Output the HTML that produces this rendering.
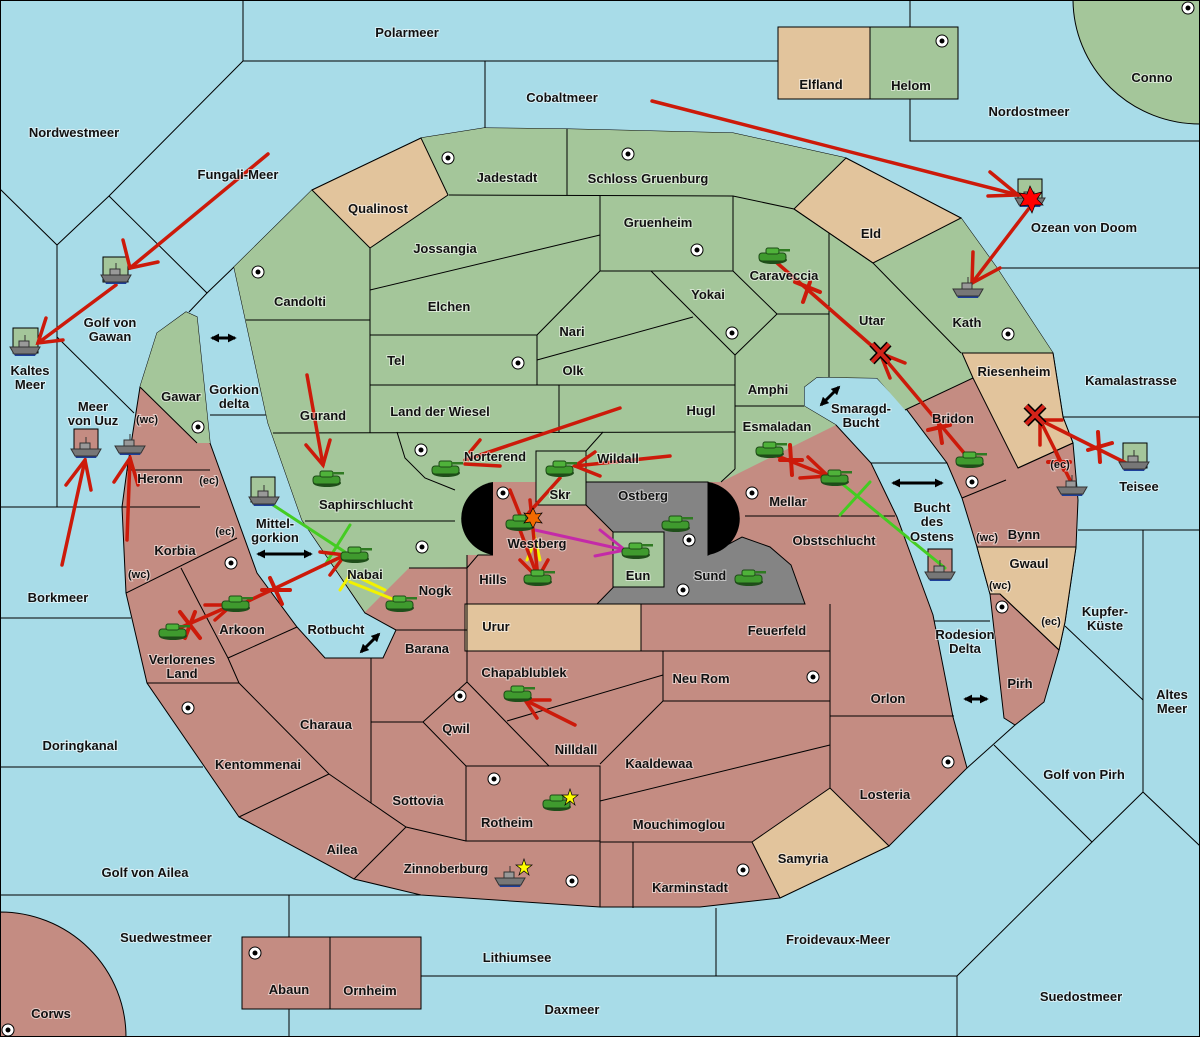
<!DOCTYPE html>
<html><head><meta charset="utf-8"><style>
html,body{margin:0;padding:0;background:#a8dce8}
svg{display:block}
text{font-family:"Liberation Sans",sans-serif;font-weight:bold;font-size:13px;fill:#111;text-anchor:middle;stroke:#fff;stroke-width:2px;stroke-opacity:.55;paint-order:stroke}
.s{font-size:11px}
.b{fill:none;stroke:#000;stroke-width:1}
.r{stroke:#cc1a0a;stroke-width:3.5;fill:none;stroke-linecap:round}
</style></head><body>
<svg width="1200" height="1037" viewBox="0 0 1200 1037" xmlns="http://www.w3.org/2000/svg">
<defs>
<g id="tank"><ellipse cx="0" cy="4" rx="14" ry="4" fill="#1f4f1a"/><rect x="-14" y="-3" width="27" height="8" rx="3" fill="#3f9a2e" stroke="#1d4a16" stroke-width="1"/><rect x="-7" y="-8" width="13" height="6" rx="2" fill="#4fb23a" stroke="#1d4a16" stroke-width="1"/><rect x="5" y="-7" width="12" height="2.5" fill="#2f7a22"/></g>
<g id="ship"><path d="M-14,2 L14,2 L10,9 L-10,9 Z" fill="#1d3f9a"/><path d="M-15,0 L15,0 L11,7 L-11,7 Z" fill="#777" stroke="#333" stroke-width="1"/><rect x="-6" y="-6" width="10" height="6" fill="#999" stroke="#333" stroke-width="1"/><line x1="0" y1="-6" x2="0" y2="-12" stroke="#333"/></g>
<g id="sc"><circle r="6" fill="#fff" stroke="#000" stroke-width="1"/><circle r="2.5" fill="#000"/></g>
<marker id="ah" viewBox="0 0 10 10" refX="8" refY="5" markerWidth="3" markerHeight="3" orient="auto-start-reverse"><path d="M0,0 L10,5 L0,10 Z" fill="#000"/></marker>
</defs>
<rect width="1200" height="1037" fill="#a8dce8"/>
<g class="b">
<polyline points="243,0 243,61 778,61"/>
<polyline points="485,61 485,128"/>
<polyline points="243,61 109,196 57,245 0,189"/>
<polyline points="57,245 57,507"/>
<polyline points="109,196 207,293 234,267"/>
<polyline points="189,312 207,293"/>
<polyline points="57,337 134,413"/>
<polyline points="0,507 122,507"/>
<polyline points="210,415 266,415"/>
<polyline points="0,618 131,618"/>
<polyline points="0,767 203,767"/>
<polyline points="0,895 421,895"/>
<polyline points="289,895 289,1037"/>
<polyline points="421,976 957,976 957,1037"/>
<polyline points="716,908 716,976"/>
<polyline points="910,0 910,27"/><polyline points="910,99 910,141 1200,141"/>
<polyline points="997,268 1200,268"/>
<polyline points="1063,417 1200,417"/>
<polyline points="1078,530 1200,530"/>
<polyline points="1143,530 1143,792 1200,846"/>
<polyline points="1065,626 1143,700"/>
<polyline points="1143,792 1092,842 994,745"/>
<polyline points="1015,725 967,768"/>
<polyline points="1092,842 957,976"/>
<polyline points="933,621 990,621"/>
<polyline points="871,463 947,463"/>
</g>
<path d="M234,267 L312,190 L421,138 L484,128 L567,129 L733,133 L846,158 L961,218 L997,268 L1053,353 L1063,417 L1073,443 L1078,500 L1076,547 L1065,622 L1059,650 L1044,702 L1015,725 L1004,718 L990,594 L977,547 L962,498 L947,463 L907,410 L877,378 L817,377 L804,387 L804,406 L836,425 L871,463 L897,517 L929,604 L933,615 L953,717 L967,768 L889,846 L780,898 L700,907 L600,907 L421,895 L354,879 L239,817 L147,683 L126,593 L122,507 L127,470 L140,387 L157,333 L186,312 L197,317 L210,443 L257,573 L297,627 L325,658 L383,658 L396,630 L365,613 L302,520 L268,423 Z" fill="#c48c82" stroke="#000" stroke-width="1"/>
<path d="M234,267 L312,190 L421,138 L484,128 L567,129 L733,133 L846,158 L961,218 L997,268 L1053,353 L962,353 L973,378 L905,410 L877,378 L817,377 L804,387 L804,406 L836,425 L721,482 L493,482 L493,555 L467,555 L467,567 L409,568 L365,612 L302,520 L268,423 Z" fill="#a4c69a"/>
<path d="M140,387 L157,333 L186,312 L197,317 L210,443 L197,443 Z" fill="#a4c69a"/>
<g fill="#e2c49c" stroke="#000">
<path d="M312,190 L421,138 L448,195 L370,248 Z"/>
<path d="M794,209 L846,158 L961,218 L873,263 Z"/>
<path d="M962,353 L1053,353 L1063,417 L1073,443 L1018,468 L973,378 Z"/>
<path d="M977,547 L1076,547 L1065,622 L1059,650 L1000,594 L990,594 Z"/>
<rect x="465" y="604" width="176" height="47"/>
<path d="M752,842 L830,788 L889,846 L780,898 Z"/>
<rect x="778" y="27" width="92" height="72"/>
</g>
<rect x="870" y="27" width="88" height="72" fill="#a4c69a" stroke="#000"/>
<path d="M1073,0 A127,125 0 0 0 1200,124 L1200,0 Z" fill="#a4c69a" stroke="#000"/>
<path d="M0,912 A126,125 0 0 1 126,1037 L0,1037 Z" fill="#c48c82" stroke="#000"/>
<rect x="242" y="937" width="88" height="72" fill="#c48c82" stroke="#000"/>
<rect x="330" y="937" width="91" height="72" fill="#c48c82" stroke="#000"/>
<path d="M586,482 L708,482 L708,555 L742,537 L770,547 L791,565 L805,604 L597,604 L640,560 L613,532 L586,505 Z" fill="#848484" stroke="#000"/>
<rect x="613" y="532" width="51" height="55" fill="#a4c69a" stroke="#000"/>
<rect x="536" y="451" width="50" height="54" fill="#a4c69a" stroke="#000"/>
<path d="M493,482 A38,37 0 0 0 493,555 Z" fill="#000"/>
<path d="M708,482 A38,37 0 0 1 708,555 Z" fill="#000"/>
<g class="b">
<polyline points="567,129 567,195"/>
<polyline points="449,195 733,196 794,209 829,233 873,263 961,353"/>
<polyline points="370,248 370,433"/>
<polyline points="370,290 600,235"/>
<polyline points="600,196 600,271 733,271 733,196"/>
<polyline points="733,271 777,314 829,314"/>
<polyline points="829,233 829,377"/>
<polyline points="600,271 537,335 537,385"/>
<polyline points="370,335 537,335"/>
<polyline points="537,360 693,317"/>
<polyline points="651,271 735,355 777,314"/>
<polyline points="735,355 735,469"/>
<polyline points="735,406 804,406"/>
<polyline points="370,385 735,385"/>
<polyline points="559,385 559,432"/>
<polyline points="246,320 370,320"/>
<polyline points="273,433 735,432"/>
<polyline points="603,432 586,451"/>
<polyline points="397,432 405,458 425,478 455,490"/>
<polyline points="305,521 455,521"/>
<polyline points="735,469 721,482"/>
<polyline points="905,410 973,378"/>
<polyline points="962,498 1006,480"/>
<polyline points="1018,468 1073,443"/>
<polyline points="1000,594 1059,650"/>
<polyline points="409,568 467,568 478,555 493,555"/>
<polyline points="467,555 467,682"/>
<polyline points="396,630 467,630"/>
<polyline points="745,516 895,516"/>
<polyline points="641,604 641,651"/>
<polyline points="830,604 830,788"/>
<polyline points="641,651 830,651"/>
<polyline points="663,651 663,701 830,701"/>
<polyline points="507,721 663,675"/>
<polyline points="600,764 663,701"/>
<polyline points="600,801 830,745"/>
<polyline points="830,716 954,716"/>
<polyline points="600,842 752,842"/>
<polyline points="633,842 633,908"/>
<polyline points="600,801 600,907"/>
<polyline points="467,682 423,722 371,722"/>
<polyline points="423,722 466,766"/>
<polyline points="467,682 549,766"/>
<polyline points="466,766 600,766 600,841 466,841 466,766"/>
<polyline points="371,658 371,803"/>
<polyline points="239,683 329,774 371,803 406,827 466,841"/>
<polyline points="239,817 329,774"/>
<polyline points="354,879 406,827"/>
<polyline points="126,593 237,538"/>
<polyline points="181,568 199,603 228,658 239,683"/>
<polyline points="147,683 239,683"/>
<polyline points="228,658 297,627"/>
<polyline points="122,507 200,507"/>
<polyline points="140,387 197,443"/>
<polyline points="127,470 210,470"/>
</g>
<g>
<use href="#sc" x="448" y="158"/><use href="#sc" x="628" y="154"/><use href="#sc" x="697" y="250"/><use href="#sc" x="942" y="41"/><use href="#sc" x="1188" y="8"/><use href="#sc" x="258" y="272"/><use href="#sc" x="518" y="363"/><use href="#sc" x="732" y="333"/><use href="#sc" x="1008" y="334"/><use href="#sc" x="198" y="427"/><use href="#sc" x="421" y="450"/><use href="#sc" x="503" y="493"/><use href="#sc" x="689" y="540"/><use href="#sc" x="752" y="493"/><use href="#sc" x="972" y="482"/><use href="#sc" x="422" y="547"/><use href="#sc" x="231" y="563"/><use href="#sc" x="1002" y="607"/><use href="#sc" x="683" y="590"/><use href="#sc" x="460" y="696"/><use href="#sc" x="188" y="708"/><use href="#sc" x="813" y="677"/><use href="#sc" x="948" y="762"/><use href="#sc" x="494" y="779"/><use href="#sc" x="572" y="881"/><use href="#sc" x="743" y="870"/><use href="#sc" x="255" y="953"/><use href="#sc" x="8" y="1030"/>
</g>
<g stroke="#000">
<rect x="103" y="257" width="25" height="25" fill="#a4c69a"/>
<rect x="13" y="328" width="25" height="25" fill="#a4c69a"/>
<rect x="74" y="429" width="24" height="25" fill="#c48c82"/>
<rect x="251" y="477" width="24" height="25" fill="#a4c69a"/>
<rect x="1018" y="179" width="24" height="24" fill="#a4c69a"/>
<rect x="1123" y="443" width="24" height="25" fill="#a4c69a"/>
<rect x="928" y="549" width="24" height="24" fill="#c48c82"/>
</g>
<g stroke-width="3" fill="none" stroke-linecap="round">
<line x1="270" y1="503" x2="345" y2="552" stroke="#44cc22"/><line x1="350" y1="525" x2="325" y2="565" stroke="#44cc22"/>
<line x1="945" y1="568" x2="840" y2="482" stroke="#44cc22"/><line x1="870" y1="482" x2="840" y2="515" stroke="#44cc22"/>
<line x1="395" y1="600" x2="350" y2="582" stroke="#f2f200"/><line x1="385" y1="590" x2="360" y2="578" stroke="#f2f200"/><line x1="340" y1="590" x2="350" y2="575" stroke="#f2f200"/>
<line x1="533" y1="530" x2="540" y2="560" stroke="#f2f200"/><line x1="527" y1="560" x2="535" y2="540" stroke="#f2f200"/>
<line x1="535" y1="530" x2="625" y2="550" stroke="#c42aa8"/><line x1="600" y1="530" x2="625" y2="550" stroke="#c42aa8"/><line x1="595" y1="556" x2="625" y2="550" stroke="#c42aa8"/>
</g>
<g class="r">
<line x1="268" y1="154" x2="130" y2="268"/><polyline points="123,240 130,268 158,262"/>
<line x1="116" y1="285" x2="38" y2="343"/><polyline points="46,318 38,343 63,340"/>
<line x1="652" y1="101" x2="1018" y2="195"/><polyline points="990,172 1018,195 988,196"/>
<line x1="1030" y1="207" x2="972" y2="283"/><polyline points="973,252 972,283 1000,268"/>
<line x1="62" y1="565" x2="85" y2="460"/><polyline points="66,485 85,460 91,490"/>
<line x1="127" y1="540" x2="130" y2="458"/><polyline points="114,482 130,458 138,485"/>
<line x1="307" y1="375" x2="323" y2="465"/><polyline points="306,445 323,465 330,440"/>
<line x1="620" y1="408" x2="465" y2="460"/><line x1="470" y1="452" x2="480" y2="440"/><line x1="465" y1="464" x2="500" y2="466"/>
<line x1="670" y1="456" x2="575" y2="466"/><polyline points="595,452 575,466 600,476"/>
<line x1="560" y1="478" x2="525" y2="517"/><line x1="510" y1="490" x2="522" y2="520"/>
<line x1="520" y1="530" x2="538" y2="578"/><line x1="530" y1="500" x2="538" y2="578"/><polyline points="520,560 538,578 548,560"/>
<line x1="776" y1="262" x2="880" y2="353"/>
<line x1="970" y1="460" x2="880" y2="353"/><polyline points="890,378 880,353 905,363"/>
<line x1="1130" y1="465" x2="1040" y2="420"/><line x1="1070" y1="480" x2="1040" y2="420"/><polyline points="1040,445 1040,420 1062,420"/>
<line x1="775" y1="455" x2="828" y2="476"/><polyline points="808,457 828,476 800,478"/>
<line x1="240" y1="605" x2="345" y2="555"/><polyline points="320,552 345,555 330,575"/>
<line x1="175" y1="630" x2="232" y2="605"/><polyline points="205,605 232,605 215,620"/>
<line x1="575" y1="725" x2="525" y2="700"/><polyline points="537,718 525,700 550,700"/>
</g>
<g stroke="#cc1a0a" stroke-width="4" stroke-linecap="round">
<line x1="795" y1="282" x2="820" y2="292"/><line x1="810" y1="282" x2="803" y2="302"/>
<line x1="262" y1="590" x2="290" y2="590"/><line x1="270" y1="578" x2="282" y2="604"/>
<line x1="180" y1="612" x2="200" y2="638"/><line x1="195" y1="612" x2="185" y2="638"/>
<line x1="928" y1="430" x2="950" y2="425"/><line x1="938" y1="418" x2="942" y2="443"/>
<line x1="1088" y1="450" x2="1112" y2="443"/><line x1="1098" y1="432" x2="1100" y2="462"/>
<line x1="780" y1="460" x2="802" y2="460"/><line x1="790" y1="445" x2="792" y2="475"/>
<line x1="1048" y1="462" x2="1070" y2="462"/><line x1="1056" y1="452" x2="1064" y2="470"/>
</g>
<g stroke="#000" stroke-width="7" stroke-linecap="butt"><line x1="872" y1="344" x2="889" y2="362"/><line x1="889" y1="344" x2="872" y2="362"/><line x1="1026" y1="406" x2="1044" y2="424"/><line x1="1044" y1="406" x2="1026" y2="424"/></g>
<g stroke="#d2231a" stroke-width="4"><line x1="872" y1="344" x2="889" y2="362"/><line x1="889" y1="344" x2="872" y2="362"/><line x1="1026" y1="406" x2="1044" y2="424"/><line x1="1044" y1="406" x2="1026" y2="424"/></g>
<g stroke="#000" stroke-width="3" marker-start="url(#ah)" marker-end="url(#ah)">
<line x1="212" y1="338" x2="235" y2="338"/><line x1="258" y1="554" x2="311" y2="554"/><line x1="361" y1="652" x2="379" y2="634"/><line x1="821" y1="405" x2="839" y2="387"/><line x1="893" y1="483" x2="942" y2="483"/><line x1="965" y1="699" x2="987" y2="699"/>
</g>
<g>
<use href="#tank" x="773" y="256"/><use href="#tank" x="327" y="479"/><use href="#tank" x="446" y="469"/><use href="#tank" x="560" y="469"/><use href="#tank" x="520" y="523"/><use href="#tank" x="538" y="578"/><use href="#tank" x="676" y="524"/><use href="#tank" x="636" y="551"/><use href="#tank" x="749" y="578"/><use href="#tank" x="355" y="555"/><use href="#tank" x="400" y="604"/><use href="#tank" x="236" y="604"/><use href="#tank" x="173" y="632"/><use href="#tank" x="770" y="450"/><use href="#tank" x="835" y="478"/><use href="#tank" x="970" y="460"/><use href="#tank" x="518" y="694"/><use href="#tank" x="557" y="803"/>
<use href="#ship" x="116" y="275"/><use href="#ship" x="25" y="347"/><use href="#ship" x="86" y="449"/><use href="#ship" x="130" y="446"/><use href="#ship" x="264" y="497"/><use href="#ship" x="968" y="289"/><use href="#ship" x="940" y="572"/><use href="#ship" x="1134" y="462"/><use href="#ship" x="1072" y="487"/><use href="#ship" x="510" y="878"/><use href="#ship" x="1030" y="198"/>
</g>
<polygon points="1030,186 1034,194 1042,192 1037,199 1043,205 1035,205 1032,213 1028,205 1020,206 1024,199 1019,193 1027,194" fill="#f00" stroke="#000" stroke-width=".7"/>
<polygon points="533,508 536,514 542,513 538,518 542,523 536,522 533,528 530,522 524,523 528,518 524,513 530,514" fill="#f36a00" stroke="#000" stroke-width=".7"/>
<polygon points="570,789 572,795 578,795 573,799 575,805 570,801 565,805 567,799 562,795 568,795" fill="#ff0" stroke="#000" stroke-width=".7"/>
<polygon points="524,859 526,865 532,865 527,869 529,875 524,871 519,875 521,869 516,865 522,865" fill="#ff0" stroke="#000" stroke-width=".7"/>
<g>
<text x="407" y="37">Polarmeer</text><text x="562" y="102">Cobaltmeer</text><text x="821" y="89">Elfland</text><text x="911" y="90">Helom</text><text x="1152" y="82">Conno</text><text x="1029" y="116">Nordostmeer</text><text x="74" y="137">Nordwestmeer</text><text x="238" y="179">Fungali-Meer</text><text x="507" y="182">Jadestadt</text><text x="648" y="183">Schloss Gruenburg</text><text x="378" y="213">Qualinost</text><text x="871" y="238">Eld</text><text x="1084" y="232">Ozean von Doom</text><text x="658" y="227">Gruenheim</text><text x="445" y="253">Jossangia</text><text x="784" y="280">Caraveccia</text><text x="110" y="327">Golf von</text><text x="110" y="341">Gawan</text><text x="300" y="306">Candolti</text><text x="449" y="311">Elchen</text><text x="708" y="299">Yokai</text><text x="967" y="327">Kath</text><text x="872" y="325">Utar</text><text x="572" y="336">Nari</text><text x="396" y="365">Tel</text><text x="573" y="375">Olk</text><text x="30" y="375">Kaltes</text><text x="30" y="389">Meer</text><text x="234" y="394">Gorkion</text><text x="234" y="408">delta</text><text x="181" y="401">Gawar</text><text x="768" y="394">Amphi</text><text x="1014" y="376">Riesenheim</text><text x="1131" y="385">Kamalastrasse</text><text x="93" y="411">Meer</text><text x="93" y="425">von Uuz</text><text x="440" y="416">Land der Wiesel</text><text x="701" y="415">Hugl</text><text x="323" y="420">Gurand</text><text x="861" y="413">Smaragd-</text><text x="861" y="427">Bucht</text><text x="953" y="423">Bridon</text><text x="147" y="423" class="s">(wc)</text><text x="777" y="431">Esmaladan</text><text x="495" y="461">Norterend</text><text x="618" y="463">Wildall</text><text x="160" y="483">Heronn</text><text x="209" y="484" class="s">(ec)</text><text x="1060" y="468" class="s">(ec)</text><text x="1139" y="491">Teisee</text><text x="560" y="499">Skr</text><text x="643" y="500">Ostberg</text><text x="788" y="506">Mellar</text><text x="366" y="509">Saphirschlucht</text><text x="932" y="512">Bucht</text><text x="932" y="526">des</text><text x="932" y="541">Ostens</text><text x="225" y="535" class="s">(ec)</text><text x="275" y="528">Mittel-</text><text x="275" y="542">gorkion</text><text x="1024" y="539">Bynn</text><text x="987" y="541" class="s">(wc)</text><text x="537" y="548">Westberg</text><text x="834" y="545">Obstschlucht</text><text x="175" y="555">Korbia</text><text x="638" y="580">Eun</text><text x="710" y="580">Sund</text><text x="1029" y="568">Gwaul</text><text x="365" y="579">Nabai</text><text x="493" y="584">Hills</text><text x="139" y="578" class="s">(wc)</text><text x="1000" y="589" class="s">(wc)</text><text x="435" y="595">Nogk</text><text x="58" y="602">Borkmeer</text><text x="1105" y="616">Kupfer-</text><text x="1105" y="630">Küste</text><text x="496" y="631">Urur</text><text x="777" y="635">Feuerfeld</text><text x="336" y="634">Rotbucht</text><text x="242" y="634">Arkoon</text><text x="1051" y="625" class="s">(ec)</text><text x="965" y="639">Rodesion</text><text x="965" y="653">Delta</text><text x="427" y="653">Barana</text><text x="182" y="664">Verlorenes</text><text x="182" y="678">Land</text><text x="524" y="677">Chapablublek</text><text x="701" y="683">Neu Rom</text><text x="1020" y="688">Pirh</text><text x="888" y="703">Orlon</text><text x="1172" y="699">Altes</text><text x="1172" y="713">Meer</text><text x="326" y="729">Charaua</text><text x="456" y="733">Qwil</text><text x="80" y="750">Doringkanal</text><text x="576" y="754">Nilldall</text><text x="659" y="768">Kaaldewaa</text><text x="258" y="769">Kentommenai</text><text x="1084" y="779">Golf von Pirh</text><text x="885" y="799">Losteria</text><text x="418" y="805">Sottovia</text><text x="507" y="827">Rotheim</text><text x="679" y="829">Mouchimoglou</text><text x="342" y="854">Ailea</text><text x="803" y="863">Samyria</text><text x="446" y="873">Zinnoberburg</text><text x="145" y="877">Golf von Ailea</text><text x="690" y="892">Karminstadt</text><text x="166" y="942">Suedwestmeer</text><text x="838" y="944">Froidevaux-Meer</text><text x="517" y="962">Lithiumsee</text><text x="289" y="994">Abaun</text><text x="370" y="995">Ornheim</text><text x="1081" y="1001">Suedostmeer</text><text x="572" y="1014">Daxmeer</text><text x="51" y="1018">Corws</text>
</g>
<rect x="0.5" y="0.5" width="1199" height="1036" fill="none" stroke="#000"/>
</svg>
</body></html>
